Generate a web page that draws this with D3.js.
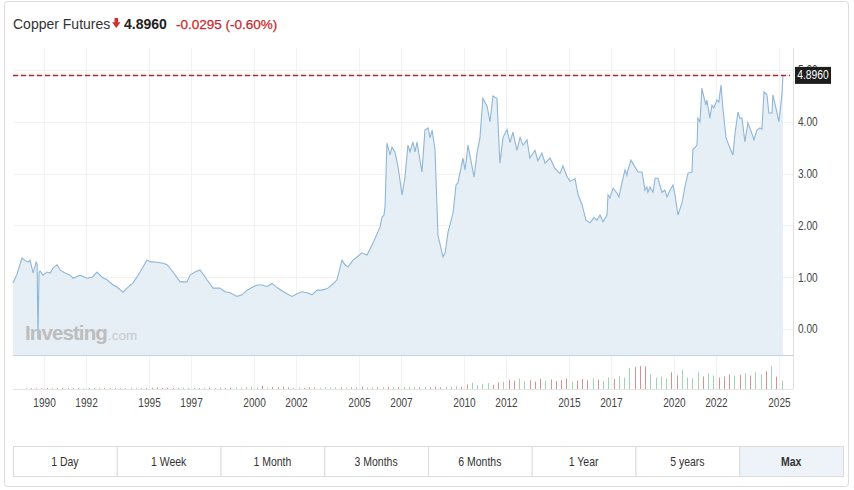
<!DOCTYPE html>
<html><head><meta charset="utf-8">
<script src="https://cdn.jsdelivr.net/npm/d3@7/dist/d3.min.js"></script>
<style>
body{margin:0;background:#fff;}
</style></head><body>
<svg id="c" width="854" height="490"></svg>
<script>
// ---------- data ----------
const years = [1988.52,1988.7,1988.95,1989.1,1989.24,1989.33,1989.48,1989.62,1989.67,1989.71,1989.76,1989.81,1989.95,
1990.14,1990.29,1990.43,1990.62,1990.76,1991.0,1991.24,1991.38,1991.71,1992.05,1992.29,1992.52,1992.76,1993.0,1993.29,
1993.48,1993.76,1994.0,1994.24,1994.57,1994.9,1995.05,1995.38,1995.67,1995.86,1996.14,1996.48,1996.81,1996.95,1997.19,
1997.43,1997.76,1998.05,1998.38,1998.62,1998.86,1999.19,1999.43,1999.67,1999.9,2000.14,2000.38,2000.62,2000.86,2001.1,
2001.33,2001.57,2001.81,2002.05,2002.29,2002.52,2002.76,2003.0,2003.24,2003.48,2003.71,2003.95,2004.19,2004.33,2004.48,
2004.71,2004.9,2005.14,2005.38,2005.67,2006.0,2006.1,2006.19,2006.24,2006.33,2006.48,2006.57,2006.71,2006.86,2007.05,
2007.19,2007.33,2007.43,2007.57,2007.67,2007.76,2008.0,2008.14,2008.29,2008.38,2008.48,2008.62,2008.76,2009.0,2009.1,
2009.24,2009.48,2009.62,2009.71,2009.95,2010.05,2010.19,2010.48,2010.62,2010.76,2010.9,2011.1,2011.24,2011.38,2011.57,
2011.71,2011.86,2012.05,2012.19,2012.33,2012.52,2012.67,2012.81,2013.0,2013.14,2013.38,2013.52,2013.71,2013.86,2014.1,
2014.33,2014.57,2014.71,2014.9,2015.05,2015.29,2015.43,2015.62,2015.81,2016.0,2016.19,2016.33,2016.48,2016.62,2016.81,
2016.86,2016.95,2017.1,2017.29,2017.38,2017.52,2017.67,2017.76,2017.81,2017.95,2018.14,2018.29,2018.48,2018.62,2018.71,
2018.76,2018.86,2019.0,2019.1,2019.24,2019.43,2019.57,2019.67,2019.81,2019.95,2020.05,2020.19,2020.38,2020.52,2020.67,
2020.86,2020.9,2021.1,2021.14,2021.24,2021.33,2021.38,2021.52,2021.57,2021.71,2021.81,2021.9,2022.05,2022.14,2022.24,
2022.33,2022.48,2022.67,2022.81,2022.9,2023.05,2023.14,2023.24,2023.38,2023.52,2023.71,2023.81,2023.95,2024.1,2024.19,
2024.29,2024.43,2024.52,2024.67,2024.71,2024.9,2025.0,2025.14,2025.19];
const prices = [0.89,1.05,1.37,1.32,1.29,1.33,1.08,1.29,1.25,-0.2,1.1,1.12,1.04,
1.10,1.08,1.18,1.24,1.14,1.08,1.04,0.98,1.04,0.98,1.0,1.10,1.0,0.95,0.85,
0.81,0.71,0.81,0.89,1.10,1.33,1.30,1.29,1.27,1.24,1.10,0.91,0.91,1.04,1.10,
1.14,0.95,0.79,0.79,0.72,0.70,0.63,0.66,0.75,0.80,0.85,0.85,0.82,0.88,0.80,
0.74,0.68,0.63,0.68,0.72,0.70,0.66,0.75,0.75,0.78,0.85,0.95,1.33,1.24,1.20,
1.33,1.39,1.47,1.43,1.66,1.97,2.16,2.20,2.36,3.59,3.36,3.51,3.42,3.13,2.59,
2.93,3.55,3.42,3.61,3.42,3.61,3.03,3.84,3.88,3.69,3.84,3.46,1.81,1.39,1.47,
1.87,2.24,2.78,2.82,3.30,3.07,3.55,2.93,3.40,3.69,4.45,4.30,4.00,4.50,4.45,
3.20,3.70,3.85,3.60,3.80,3.45,3.70,3.55,3.65,3.30,3.45,3.25,3.40,3.20,3.30,
3.10,3.00,3.15,2.95,2.85,2.90,2.60,2.40,2.10,2.05,2.15,2.10,2.20,2.07,2.20,
2.59,2.53,2.72,2.62,2.55,2.82,3.07,2.97,3.07,3.26,3.13,3.03,3.03,2.68,2.74,
2.64,2.74,2.64,2.91,2.91,2.64,2.68,2.55,2.68,2.78,2.59,2.20,2.43,2.74,3.01,
3.03,3.46,3.55,4.07,4.00,4.65,4.56,4.32,4.42,4.07,4.32,4.27,4.42,4.38,4.71,
4.27,3.69,3.49,3.36,3.75,4.19,4.07,4.07,3.61,3.98,3.78,3.65,3.84,3.88,3.86,
4.58,4.52,4.17,4.17,4.52,4.19,4.00,4.52,4.896];

// quarterly volume (thousand contracts, approximate), from 1989 Q1
const volStart = 1989;
const volumes = [3,4,3,4, 5,4,3,5, 4,3,4,3, 4,5,3,4, 3,4,5,4, 5,6,4,5, 6,8,5,6, 5,6,7,5, 6,5,4,6, 5,6,4,7,
8,6,9,12, 7,15,6,10, 9,12,8,6, 7,5,8,9, 6,9,7,8, 8,6,10,9, 12,8,7,10, 9,11,6,10, 8,12,10,9, 11,9,12,8,
10,12,14,11, 22,30,18,25, 28,20,32,35, 45,40,50,38, 42,35,48,40, 45,38,42,50, 35,40,48,42, 50,45,38,55,
48,60,55,100, 105,110,108,70, 55,60,50,80, 65,90,55,50, 80,60,75,65, 55,60,70,65, 68,75,65,80, 70,85,110,60, 40];

const yTicks = [0, 1, 2, 3, 4, 5];
const xTickYears = [1990,1992,1995,1997,2000,2002,2005,2007,2010,2012,2015,2017,2020,2022,2025];
const rangeButtons = ["1 Day","1 Week","1 Month","3 Months","6 Months","1 Year","5 years","Max"];
const instrument = "Copper Futures";
const lastPrice = 4.8960, change = -0.0295, changePct = -0.60;

// ---------- layout ----------
const svg = d3.select("#c");
const L = 13, R = 793, T = 48, priceBottom = 355, volBottom = 389;
const sans = "'Liberation Sans',Arial,Helvetica,sans-serif";
const NARROW = "scale(0.84,1)";

const x = d3.scaleLinear().domain([1988.52, 2025.67]).range([L, R]);
const y = d3.scaleLinear().domain([0, 5]).range([329, 70]);
const yv = d3.scaleLinear().domain([0, 110]).range([volBottom, volBottom - 23]);

// card
svg.append("rect").attr("x",4.5).attr("y",1.5).attr("width",844).attr("height",485)
  .attr("rx",3).attr("fill","#fff").attr("stroke","#dcdcdc");

// title
svg.append("text").attr("x",13).attr("y",29).attr("font-family",sans).attr("font-size",14).attr("fill","#333").text(instrument);
svg.append("path").attr("d","M114.5,18 h3.6 v4.2 h2.4 l-4.2,5.8 l-4.2,-5.8 h2.4 z").attr("fill","#d0312d");
svg.append("text").attr("x",124).attr("y",29).attr("font-family",sans).attr("font-size",14)
  .attr("font-weight","bold").attr("fill","#222").text(lastPrice.toFixed(4));
svg.append("text").attr("x",176).attr("y",29).attr("font-family",sans).attr("font-size",13.5)
  .attr("fill","#c8282b").attr("stroke","#c8282b").attr("stroke-width",0.25)
  .text(`${change.toFixed(4)} (${changePct.toFixed(2)}%)`);

// grid
const grid = svg.append("g");
grid.selectAll("line.v").data(xTickYears).join("line")
  .attr("x1",d=>x(d)+0.5).attr("x2",d=>x(d)+0.5).attr("y1",T).attr("y2",volBottom)
  .attr("stroke","#f1f1f1");
grid.selectAll("line.h").data(yTicks).join("line")
  .attr("x1",L).attr("x2",R).attr("y1",d=>Math.round(y(d))+0.5).attr("y2",d=>Math.round(y(d))+0.5)
  .attr("stroke","#f1f1f1");

// area + line
const pts = years.map((d,i)=>({t:d, v:prices[i]}));
svg.append("path").datum(pts)
  .attr("d", d3.area().x(d=>x(d.t)).y0(priceBottom).y1(d=>y(d.v)))
  .attr("fill","#e6eef6");
svg.append("path").datum(pts)
  .attr("d", d3.line().x(d=>x(d.t)).y(d=>y(d.v)))
  .attr("fill","none").attr("stroke","#90b6d6").attr("stroke-width",1.1);

// watermark
const wm = svg.append("text").attr("x",25).attr("y",340).attr("fill","#bdbdbd");
wm.append("tspan").attr("font-family",sans).attr("font-weight","bold").attr("font-size",20.5)
  .attr("letter-spacing","-0.9").text("Investing");
wm.append("tspan").attr("dx",1).attr("font-family",sans).attr("font-size",13.5).attr("fill","#cacaca").text(".com");

// panel borders
svg.append("line").attr("x1",L).attr("x2",R).attr("y1",priceBottom+0.5).attr("y2",priceBottom+0.5).attr("stroke","#c9d3de");
svg.append("line").attr("x1",L).attr("x2",R).attr("y1",volBottom+0.5).attr("y2",volBottom+0.5).attr("stroke","#e4e4e4");
svg.append("line").attr("x1",R+0.5).attr("x2",R+0.5).attr("y1",T).attr("y2",volBottom).attr("stroke","#dedede");

// volume bars
const priceAt = t => { const i = d3.bisectLeft(years, t); return prices[Math.min(i, prices.length-1)]; };
svg.append("g").selectAll("line").data(volumes).join("line")
  .attr("x1",(d,i)=>Math.round(x(volStart+i*0.25+0.125))+0.5)
  .attr("x2",(d,i)=>Math.round(x(volStart+i*0.25+0.125))+0.5)
  .attr("y1",volBottom).attr("y2",d=>yv(d))
  .attr("stroke",(d,i)=>{const t=volStart+i*0.25; return priceAt(t+0.25)>=priceAt(t) ? "#9fd3b2" : "#d99191";})
  .attr("stroke-width",1);

// y axis labels (5.00 sits mostly behind the last-price label, as in the source)
const yAxis = d3.axisRight(y).tickValues(yTicks).tickFormat(d3.format(".2f")).tickSize(0).tickPadding(0);
const ga = svg.append("g").attr("transform",`translate(${R+5},0)`).call(yAxis);
ga.select(".domain").remove();
ga.selectAll("text").attr("font-family",sans).attr("font-size",12).attr("fill","#444").attr("transform",NARROW);

// x axis labels
const xAxis = d3.axisBottom(x).tickValues(xTickYears).tickFormat(d3.format("d")).tickSize(0).tickPadding(0);
const gx = svg.append("g").attr("transform",`translate(0,${398})`).call(xAxis);
gx.select(".domain").remove();
gx.selectAll("text").attr("font-family",sans).attr("font-size",12).attr("fill","#444").attr("transform",NARROW);

// last price line & label
const yl = Math.round(y(lastPrice))+0.5;
svg.append("line").attr("x1",L).attr("x2",R-3).attr("y1",yl).attr("y2",yl).attr("stroke","#f5d5d5");
svg.append("line").attr("x1",L).attr("x2",R-3).attr("y1",yl).attr("y2",yl)
  .attr("stroke","#a82a2a").attr("stroke-width",1.3).attr("stroke-dasharray","5,3");
svg.append("rect").attr("x",R+2).attr("y",y(lastPrice)-8.5).attr("width",36).attr("height",17).attr("fill","#1d1d1d");
svg.append("g").attr("transform",`translate(${R+20},${y(lastPrice)+4})`)
  .append("text").attr("text-anchor","middle").attr("transform","scale(0.86,1)")
  .attr("font-family",sans).attr("font-size",12).attr("fill","#fff").text(lastPrice.toFixed(4));

// range buttons
const bx = d3.scaleBand().domain(rangeButtons).range([13, 843]);
const bg = svg.append("g");
bg.selectAll("rect").data(rangeButtons).join("rect")
  .attr("x",d=>bx(d)+0.5).attr("y",446.5).attr("width",bx.bandwidth()).attr("height",30)
  .attr("fill",d=>d==="Max"?"#edf3f9":"#fff").attr("stroke","#dcdcdc");
bg.selectAll("g").data(rangeButtons).join("g")
  .attr("transform",d=>`translate(${bx(d)+bx.bandwidth()/2},466)`)
  .append("text").attr("text-anchor","middle").attr("transform",NARROW)
  .attr("font-family",sans).attr("font-size",12.5).attr("fill","#333")
  .attr("font-weight",d=>d==="Max"?"bold":"normal").text(d=>d);
</script>
</body></html>
